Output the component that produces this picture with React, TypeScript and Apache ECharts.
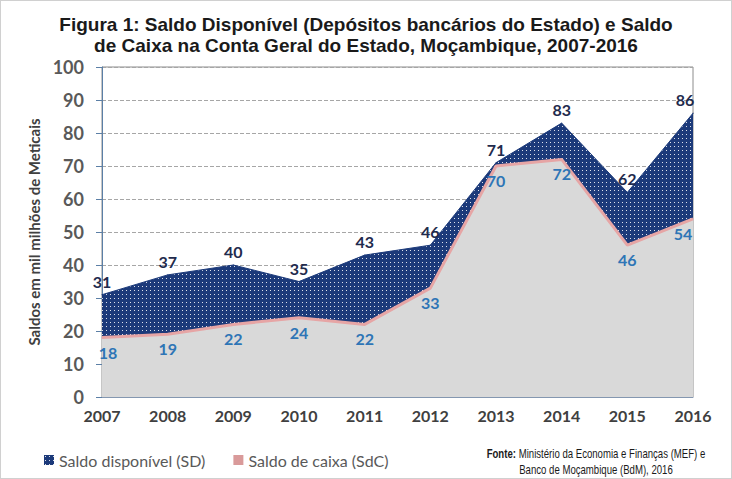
import React, { useEffect, useRef } from "react";
import * as echarts from "echarts";

const years = ["2007", "2008", "2009", "2010", "2011", "2012", "2013", "2014", "2015", "2016"];
const saldoDisponivel = [31, 37, 40, 35, 43, 46, 71, 83, 62, 86];
const saldoCaixa = [18, 19, 22, 24, 22, 33, 70, 72, 46, 54];
const nameSD = "Saldo disponível (SD)";
const nameSdC = "Saldo de caixa (SdC)";

const NAVY = "#1c3a7a";
const FONT = "Lato, 'Open Sans', sans-serif";
const ARIAL = "'Liberation Sans', Arial, sans-serif";

function makePattern() {
  const c = document.createElement("canvas");
  c.width = 4;
  c.height = 4;
  const ctx = c.getContext("2d")!;
  ctx.fillStyle = NAVY;
  ctx.fillRect(0, 0, 4, 4);
  ctx.fillStyle = "rgba(255,255,255,0.85)";
  ctx.fillRect(1, 1, 1, 1);
  return { image: c, repeat: "repeat", imageWidth: 4, imageHeight: 4 } as any;
}

export default function App() {
  const ref = useRef<HTMLDivElement>(null);
  useEffect(() => {
    if (!ref.current) return;
    const chart = echarts.init(ref.current, undefined, { renderer: "svg" });
    const pattern = makePattern();
    const last = years.length - 1;
    chart.setOption({
      animation: false,
      title: {
        text: "Figura 1: Saldo Disponível (Depósitos bancários do Estado) e Saldo\nde Caixa na Conta Geral do Estado, Moçambique, 2007-2016",
        left: "center",
        top: 8,
        textStyle: { fontFamily: ARIAL, fontSize: 19, fontWeight: "bold", color: "#1a1a1a", lineHeight: 21 },
      },
      grid: { left: 101, right: 38, top: 66, bottom: 81, show: true, borderColor: "#8c8c8c", borderWidth: 1 },
      legend: {
        left: 38,
        top: 446,
        icon: "rect",
        itemWidth: 10,
        itemHeight: 10,
        itemGap: 28,
        textStyle: { color: "#595959", fontSize: 16, fontFamily: FONT },
        data: [
          { name: nameSD, itemStyle: { color: pattern } },
          { name: nameSdC, itemStyle: { color: "#d99a9a" } },
        ],
      },
      xAxis: {
        type: "category",
        data: years,
        boundaryGap: false,
        axisLine: { lineStyle: { color: "#8497b0" } },
        axisTick: { show: false },
        axisLabel: { color: "#404040", fontWeight: "bold", fontSize: 16, margin: 10, fontFamily: FONT },
      },
      yAxis: {
        type: "value",
        min: 0,
        max: 100,
        interval: 10,
        name: "Saldos em mil milhões de Meticais",
        nameLocation: "middle",
        nameGap: 60,
        nameTextStyle: { color: "#404040", fontWeight: "bold", fontSize: 15, fontFamily: FONT },
        axisLine: { show: true, lineStyle: { color: "#5b7fa6" } },
        axisTick: { show: true, length: 6, lineStyle: { color: "#5b7fa6" } },
        axisLabel: { color: "#595959", fontWeight: "bold", fontSize: 18, margin: 18, fontFamily: FONT },
        splitLine: { lineStyle: { type: "dashed", color: "#a6a6a6" } },
      },
      series: [
        {
          name: nameSD,
          type: "line",
          z: 1,
          symbol: "circle",
          symbolSize: 1,
          itemStyle: { color: NAVY },
          lineStyle: { color: NAVY, width: 1 },
          areaStyle: { color: pattern, opacity: 1 },
          label: {
            show: true,
            position: "top",
            distance: 5,
            color: "#1f2b4d",
            fontWeight: "bold",
            fontSize: 16,
            fontFamily: FONT,
          },
          data: saldoDisponivel.map((v, i) => (i === last ? { value: v, label: { offset: [-8, 0] } } : v)),
        },
        {
          name: nameSdC,
          type: "line",
          z: 2,
          symbol: "circle",
          symbolSize: 1,
          itemStyle: { color: "#e6a5a5" },
          lineStyle: { color: "#e6a5a5", width: 3 },
          areaStyle: { color: "#d9d9d9", opacity: 1 },
          label: {
            show: true,
            position: "bottom",
            distance: 6,
            color: "#2e75b6",
            fontWeight: "bold",
            fontSize: 16,
            fontFamily: FONT,
          },
          data: saldoCaixa.map((v, i) =>
            i === last ? { value: v, label: { offset: [-10, 0] } } : i === 0 ? { value: v, label: { offset: [6, 0] } } : v
          ),
        },
      ],
      graphic: [
        {
          type: "text",
          x: 595,
          y: 445,
          scaleX: 0.8,
          style: {
            text: "{b|Fonte:} Ministério da Economia e Finanças (MEF) e\nBanco de Moçambique (BdM), 2016",
            align: "center",
            fill: "#1a1a1a",
            fontFamily: ARIAL,
            fontSize: 12,
            lineHeight: 16,
            rich: { b: { fontWeight: "bold", fontFamily: ARIAL, fontSize: 12 } },
          },
        },
      ],
    });
    return () => chart.dispose();
  }, []);
  return (
    <div
      style={{
        position: "absolute",
        left: 0,
        top: 0,
        width: 732,
        height: 479,
        border: "1px solid #d0d0d0",
        boxSizing: "border-box",
        background: "#fff",
      }}
    >
      <div ref={ref} style={{ width: 730, height: 477 }} />
    </div>
  );
}
